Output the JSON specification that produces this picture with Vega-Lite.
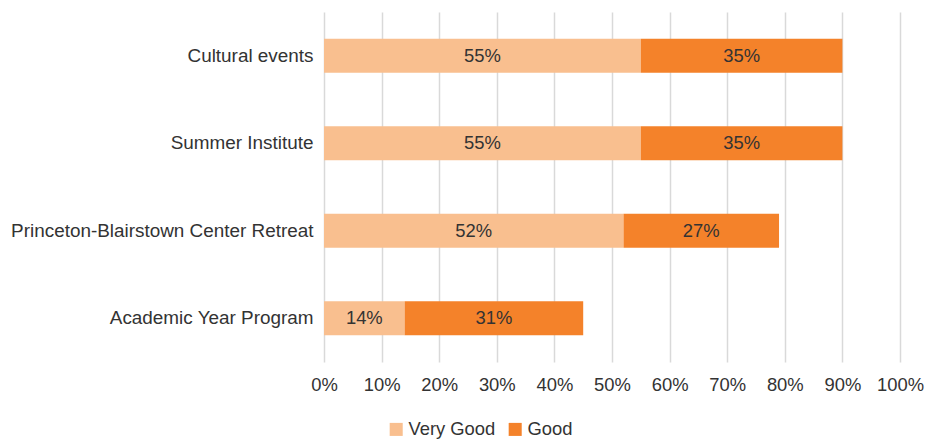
{
  "$schema": "https://vega.github.io/schema/vega-lite/v6.json",
  "autosize": "none",
  "padding": {"left": 324, "top": 12, "right": 27, "bottom": 77},
  "width": 576,
  "height": 350,
  "background": "white",
  "config": {
    "font": "Liberation Sans",
    "view": {"stroke": null}
  },
  "data": {
    "values": [
      {"program": "Cultural events", "rating": "Very Good", "rank": 1, "value": 0.55},
      {"program": "Cultural events", "rating": "Good", "rank": 2, "value": 0.35},
      {"program": "Summer Institute", "rating": "Very Good", "rank": 1, "value": 0.55},
      {"program": "Summer Institute", "rating": "Good", "rank": 2, "value": 0.35},
      {"program": "Princeton-Blairstown Center Retreat", "rating": "Very Good", "rank": 1, "value": 0.52},
      {"program": "Princeton-Blairstown Center Retreat", "rating": "Good", "rank": 2, "value": 0.27},
      {"program": "Academic Year Program", "rating": "Very Good", "rank": 1, "value": 0.14},
      {"program": "Academic Year Program", "rating": "Good", "rank": 2, "value": 0.31}
    ]
  },
  "transform": [
    {"stack": "value", "groupby": ["program"], "sort": [{"field": "rank"}], "as": ["v0", "v1"]},
    {"calculate": "(datum.v0 + datum.v1) / 2", "as": "mid"}
  ],
  "encoding": {
    "y": {
      "field": "program",
      "type": "nominal",
      "sort": ["Cultural events", "Summer Institute", "Princeton-Blairstown Center Retreat", "Academic Year Program"],
      "scale": {"paddingInner": 0.61, "paddingOuter": 0.305},
      "axis": {
        "title": null,
        "domain": false,
        "ticks": false,
        "labelFontSize": 18.9,
        "labelColor": "#333333",
        "labelPadding": 11,
        "labelLimit": 400
      }
    }
  },
  "layer": [
    {
      "mark": {"type": "bar"},
      "encoding": {
        "x": {
          "field": "v0",
          "type": "quantitative",
          "scale": {"domain": [0, 1], "nice": false},
          "axis": {
            "title": null,
            "format": ".0%",
            "values": [0, 0.1, 0.2, 0.3, 0.4, 0.5, 0.6, 0.7, 0.8, 0.9, 1],
            "domain": false,
            "ticks": false,
            "grid": true,
            "gridColor": "#d9d9d9",
            "gridWidth": 1.5,
            "labelFontSize": 18.4,
            "labelColor": "#333333",
            "labelPadding": 13,
            "labelOverlap": false,
            "labelFlush": false,
            "labelBound": false
          }
        },
        "x2": {"field": "v1"},
        "color": {
          "field": "rating",
          "type": "nominal",
          "scale": {"domain": ["Very Good", "Good"], "range": ["#F9BF8F", "#F4822A"]},
          "legend": {
            "title": null,
            "orient": "none",
            "direction": "horizontal",
            "legendX": 63,
            "legendY": 408,
            "symbolType": "square",
            "symbolSize": 170,
            "symbolStrokeWidth": 0,
            "labelFontSize": 18.4,
            "labelColor": "#333333",
            "columnPadding": 10,
            "labelOffset": 3
          }
        }
      }
    },
    {
      "mark": {"type": "text", "fontSize": 18.4, "color": "#333333", "baseline": "middle"},
      "encoding": {
        "x": {"field": "mid", "type": "quantitative"},
        "text": {"field": "value", "type": "quantitative", "format": ".0%"}
      }
    }
  ]
}
